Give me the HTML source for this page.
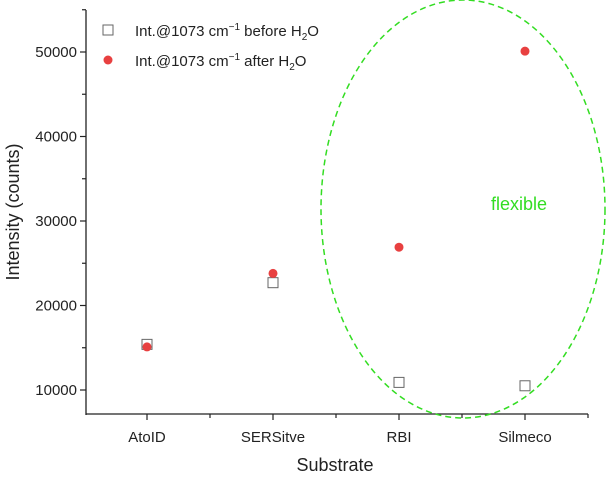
<!DOCTYPE html>
<html><head><meta charset="utf-8"><style>
body{margin:0;background:#fff;}
svg text{font-family:"Liberation Sans",Arial,sans-serif;fill:#222;}
</style></head><body>
<svg width="608" height="475" xmlns="http://www.w3.org/2000/svg">
<g id="axes"></g>
<g id="marks"></g>
<ellipse cx="463" cy="209" rx="142" ry="209" fill="none" stroke="#33dd22" stroke-width="1.5" stroke-dasharray="6,4"/>
<text x="491" y="210" font-size="18" style="fill:#33dd22">flexible</text>
<g>
<rect x="103" y="25" width="10" height="10" fill="#fff" stroke="#666" stroke-width="1"/>
<text x="135" y="36" font-size="15">Int.@1073 cm<tspan font-size="10" dy="-6">−1</tspan><tspan dy="6"> before H</tspan><tspan font-size="10" dy="4">2</tspan><tspan dy="-4">O</tspan></text>
<circle cx="108" cy="60" r="4.5" fill="#e84040"/>
<text x="135" y="66" font-size="15">Int.@1073 cm<tspan font-size="10" dy="-6">−1</tspan><tspan dy="6"> after H</tspan><tspan font-size="10" dy="4">2</tspan><tspan dy="-4">O</tspan></text>
</g>
<text x="335" y="471" font-size="18" text-anchor="middle">Substrate</text>
<text transform="translate(19,212) rotate(-90)" font-size="18" text-anchor="middle">Intensity (counts)</text>
</svg>
<script>
const categories=["AtoID","SERSitve","RBI","Silmeco"];
const beforeVals=[15400,22700,10900,10500];
const afterVals=[15100,23800,26900,50100];
const yTicks=[10000,20000,30000,40000,50000];
const L=86,R=588,T=10,B=414;
const x=v=>84+(v-0.5)*126;
const y=v=>390-(v-10000)*0.00845;
const ns="http://www.w3.org/2000/svg";
const ax=document.getElementById('axes'),mk=document.getElementById('marks');
function mkEl(t,a,p){const e=document.createElementNS(ns,t);for(const k in a)e.setAttribute(k,a[k]);p.appendChild(e);return e;}
let e=mkEl('line',{x1:L,y1:T,x2:L,y2:B+1,stroke:'#222','stroke-width':1.3},ax);


e=mkEl('line',{x1:L,y1:B,x2:R,y2:B,stroke:'#222','stroke-width':1.3},ax);


for(let v=10000;v<=55000;v+=5000){const maj=v%10000===0;
e=mkEl('line',{x1:L-(maj?6:4),x2:L,y1:y(v),y2:y(v),stroke:'#222','stroke-width':1.2},ax);

}
yTicks.forEach(v=>{e=mkEl('text',{x:L-9,y:y(v)+5,'font-size':15,'text-anchor':'end'},ax);e.textContent=v;

});
for(let i=1;i<=categories.length;i++){const v=i+0.5;
e=mkEl('line',{x1:x(v),x2:x(v),y1:B,y2:B+4,stroke:'#222','stroke-width':1.2},ax);

}
categories.forEach((c,i)=>{const v=i+1;
e=mkEl('line',{x1:x(v),x2:x(v),y1:B,y2:B+6,stroke:'#222','stroke-width':1.2},ax);


e=mkEl('text',{x:x(v),y:B+28,'font-size':15,'text-anchor':'middle'},ax);e.textContent=c;

});
beforeVals.forEach((v,i)=>{e=mkEl('rect',{x:x(i+1)-5,y:y(v)-5,width:10,height:10,fill:'#fff',stroke:'#666','stroke-width':1},mk);

});
afterVals.forEach((v,i)=>{e=mkEl('circle',{cx:x(i+1),cy:y(v),r:4.5,fill:'#e84040'},mk);

});
</script>
</body></html>
